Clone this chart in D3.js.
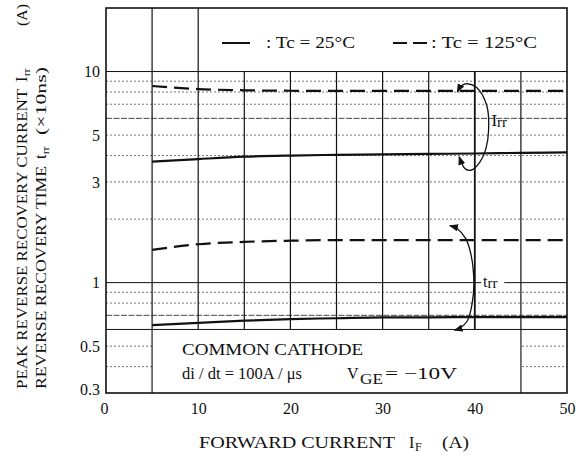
<!DOCTYPE html>
<html>
<head>
<meta charset="utf-8">
<script src="https://cdn.jsdelivr.net/npm/d3@7/dist/d3.min.js"></script>
<style>
  body { margin: 0; background: #fff; }
  svg text { font-family: "Liberation Serif", "DejaVu Serif", serif; fill: #111; }
</style>
</head>
<body>
<svg id="chart" width="582" height="458"></svg>
<script>
// forward current (A)
var current = [5, 10, 15, 20, 25, 30, 35, 40, 45, 50];
// peak reverse recovery current Irr (A)
var irr25  = [3.74, 3.85, 3.95, 4.00, 4.03, 4.05, 4.07, 4.09, 4.12, 4.14];
var irr125 = [8.54, 8.26, 8.15, 8.11, 8.10, 8.10, 8.10, 8.10, 8.10, 8.10];
// reverse recovery time trr (x10ns)
var trr25  = [0.629, 0.645, 0.660, 0.672, 0.678, 0.684, 0.685, 0.686, 0.686, 0.687];
var trr125 = [1.43, 1.52, 1.56, 1.58, 1.59, 1.59, 1.59, 1.59, 1.59, 1.59];

var xTicks = [0, 10, 20, 30, 40, 50];
var yTicks = [0.3, 0.5, 1, 3, 5, 10];
var yGrid = [0.4, 0.5, 0.7, 0.8, 0.9, 2, 3, 4, 5, 6, 7, 8, 9];

// annotation arrows, in data units (A, value)
var irrArrow = [[38.1, 8.0], [38.6, 8.6], [39.2, 8.75], [40.2, 8.4], [41.3, 6.9], [41.5, 5.3],
                [41.2, 4.3], [40.6, 3.75], [39.7, 3.42], [39.0, 3.45], [38.3, 3.95]];
var trrArrow = [[37.3, 1.86], [38.1, 1.80], [39.0, 1.62], [39.6, 1.35], [39.9, 1.0],
                [39.7, 0.79], [39.2, 0.66], [38.4, 0.61], [37.8, 0.595]];

var svg = d3.select("#chart");
var x = d3.scaleLinear().domain([0, 50]).range([106, 567]);
var y = d3.scaleLog().domain([0.3, 20]).range([393, 8]);

var ink = "#111";

// horizontal grid
svg.append("g").selectAll("line").data(yGrid).enter().append("line")
  .attr("x1", x(0)).attr("x2", x(50))
  .attr("y1", function(d){ return y(d); }).attr("y2", function(d){ return y(d); })
  .attr("stroke", function(d){ return (d == 6 || d == 0.7) ? "#333" : "#666"; })
  .attr("stroke-width", 0.9)
  .attr("stroke-dasharray", function(d){ return (d == 6 || d == 0.7) ? "6,1.5" : "2,2"; });

svg.append("g").selectAll("line").data([1, 10, 0.6]).enter().append("line")
  .attr("x1", x(0)).attr("x2", x(50))
  .attr("y1", function(d){ return y(d); }).attr("y2", function(d){ return y(d); })
  .attr("stroke", ink).attr("stroke-width", 1);

// vertical grid
svg.append("g").selectAll("line").data(d3.range(5, 50, 5)).enter().append("line")
  .attr("x1", function(d){ return x(d); }).attr("x2", function(d){ return x(d); })
  .attr("y1", function(d){ return (d <= 10) ? y(20) : y(10); })
  .attr("y2", function(d){ return (d == 5 || d == 45) ? y(0.3) : y(0.6); })
  .attr("stroke", ink).attr("stroke-width", function(d){ return d == 40 ? 1.8 : 1.2; });

// blank the legend and note boxes
svg.append("rect").attr("x", x(10) + 0.8).attr("y", y(20) + 1)
  .attr("width", x(50) - x(10) - 1.6).attr("height", y(10) - y(20) - 1.6).attr("fill", "#fff");
svg.append("rect").attr("x", x(5) + 0.8).attr("y", y(0.6) + 0.6)
  .attr("width", x(45) - x(5) - 1.6).attr("height", y(0.3) - y(0.6) - 1.4).attr("fill", "#fff");

// frame
svg.append("rect").attr("x", x(0)).attr("y", y(20))
  .attr("width", x(50) - x(0)).attr("height", y(0.3) - y(20))
  .attr("fill", "none").attr("stroke", ink).attr("stroke-width", 1.6);

// curves
var line = d3.line()
  .x(function(d){ return x(d[0]); })
  .y(function(d){ return y(d[1]); })
  .curve(d3.curveMonotoneX);

[[irr25, false], [irr125, true], [trr25, false], [trr125, true]].forEach(function(s) {
  svg.append("path")
    .datum(d3.zip(current, s[0]))
    .attr("d", line)
    .attr("fill", "none").attr("stroke", ink).attr("stroke-width", 2.2)
    .attr("stroke-dasharray", s[1] ? "15,7" : null);
});

// arrows
var defs = svg.append("defs");
["start", "end"].forEach(function(k) {
  defs.append("marker").attr("id", "arr-" + k)
    .attr("viewBox", "0 0 10 10").attr("refX", k == "end" ? 9 : 1).attr("refY", 5)
    .attr("markerWidth", 9).attr("markerHeight", 9)
    .attr("markerUnits", "userSpaceOnUse")
    .attr("orient", "auto")
    .append("path")
    .attr("d", k == "end" ? "M0,1 L10,5 L0,9 Z" : "M10,1 L0,5 L10,9 Z")
    .attr("fill", ink);
});

var arrowLine = d3.line()
  .x(function(d){ return x(d[0]); })
  .y(function(d){ return y(d[1]); })
  .curve(d3.curveCatmullRom);

[irrArrow, trrArrow].forEach(function(a) {
  svg.append("path").datum(a).attr("d", arrowLine)
    .attr("fill", "none").attr("stroke", ink).attr("stroke-width", 1.3)
    .attr("marker-start", "url(#arr-start)").attr("marker-end", "url(#arr-end)");
});

// Irr / trr labels
var irrLab = svg.append("text").attr("x", x(41.8)).attr("y", y(5.55)).attr("font-size", 17);
irrLab.append("tspan").text("I");
irrLab.append("tspan").attr("font-size", 15).attr("dy", 1).text("rr");

svg.append("rect").attr("x", x(40.7)).attr("y", y(1) - 4).attr("width", 23).attr("height", 8).attr("fill", "#fff");
var trrLab = svg.append("text").attr("x", x(40.9)).attr("y", y(1) + 4).attr("font-size", 16);
trrLab.append("tspan").text("t");
trrLab.append("tspan").attr("font-size", 15).attr("dy", 1).text("rr");

// axes (labels only)
var xAxis = svg.append("g").attr("transform", "translate(0," + 399 + ")")
  .call(d3.axisBottom(x).tickValues(xTicks).tickSize(0).tickFormat(d3.format("d")));
xAxis.select(".domain").remove();
xAxis.selectAll("text").attr("font-size", 16).attr("fill", ink)
  .attr("dy", "0.71em").attr("y", 4).attr("x", function(d){ return d == 0 ? -2 : 0; });

var yAxis = svg.append("g").attr("transform", "translate(" + 106 + ",0)")
  .call(d3.axisLeft(y).tickValues(yTicks).tickSize(0).tickFormat(function(d){ return String(d); }));
yAxis.select(".domain").remove();
yAxis.selectAll("text").attr("font-size", 16).attr("fill", ink)
  .attr("x", -6).attr("dy", function(d){ return d == 0.3 ? "0.1em" : "0.32em"; });

// legend
svg.append("line").attr("x1", 222).attr("x2", 250).attr("y1", 43).attr("y2", 43)
  .attr("stroke", ink).attr("stroke-width", 2);
svg.append("text").attr("x", 266).attr("y", 48).attr("font-size", 16)
  .attr("textLength", 89).attr("lengthAdjust", "spacingAndGlyphs").text(": Tc = 25°C");
svg.append("line").attr("x1", 393).attr("x2", 427).attr("y1", 43).attr("y2", 43)
  .attr("stroke", ink).attr("stroke-width", 2).attr("stroke-dasharray", "14,6");
svg.append("text").attr("x", 431).attr("y", 48).attr("font-size", 16)
  .attr("textLength", 106).attr("lengthAdjust", "spacingAndGlyphs").text(": Tc = 125°C");

// note box
svg.append("text").attr("x", 182).attr("y", 355).attr("font-size", 16)
  .attr("textLength", 181).attr("lengthAdjust", "spacingAndGlyphs").text("COMMON CATHODE");
svg.append("text").attr("x", 182).attr("y", 379).attr("font-size", 16)
  .attr("textLength", 120).attr("lengthAdjust", "spacingAndGlyphs").text("di / dt = 100A / μs");
svg.append("text").attr("x", 347).attr("y", 379).attr("font-size", 16).text("V");
svg.append("text").attr("x", 360).attr("y", 384).attr("font-size", 15)
  .attr("textLength", 23).attr("lengthAdjust", "spacingAndGlyphs").text("GE");
svg.append("text").attr("x", 385).attr("y", 379).attr("font-size", 17)
  .attr("textLength", 72).attr("lengthAdjust", "spacingAndGlyphs").text("= −10V");

// x title
svg.append("text").attr("x", 199).attr("y", 448).attr("font-size", 16)
  .attr("textLength", 196).attr("lengthAdjust", "spacingAndGlyphs").text("FORWARD CURRENT");
svg.append("text").attr("x", 409).attr("y", 448).attr("font-size", 16).text("I");
svg.append("text").attr("x", 415).attr("y", 451).attr("font-size", 12).text("F");
svg.append("text").attr("x", 442).attr("y", 448).attr("font-size", 16)
  .attr("textLength", 27).attr("lengthAdjust", "spacingAndGlyphs").text("(A)");

// y titles (rotated)
function vtext(bx, by, off, str, size, len) {
  var t = svg.append("text")
    .attr("transform", "translate(" + bx + "," + by + ") rotate(-90)")
    .attr("x", off).attr("font-size", size).text(str);
  if (len) t.attr("textLength", len).attr("lengthAdjust", "spacingAndGlyphs");
  return t;
}
vtext(27, 389, 0, "PEAK REVERSE RECOVERY CURRENT", 15, 300);
vtext(27, 389, 307, "I", 16);
vtext(30, 389, 313, "rr", 11);
vtext(27, 389, 363, "(A)", 15, 22);
vtext(46, 389, 0, "REVERSE RECOVERY TIME", 15, 223);
vtext(46, 389, 230, "t", 16);
vtext(49, 389, 235, "rr", 11);
vtext(46, 389, 254, "(×10ns)", 15, 68);
</script>
</body>
</html>
